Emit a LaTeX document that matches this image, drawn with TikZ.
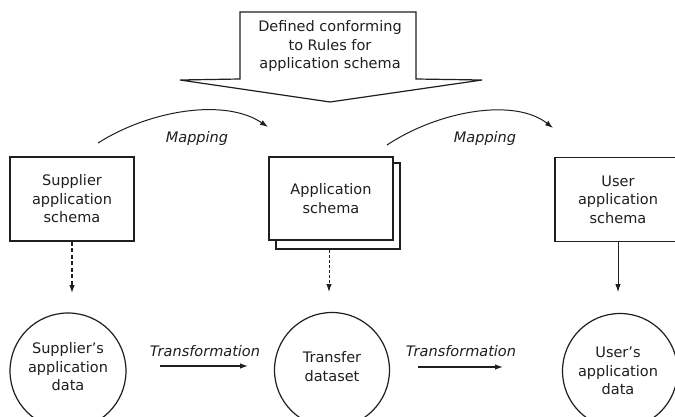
\documentclass[tikz,border=0pt]{standalone}
\usepackage{fontspec}
\setmainfont{DejaVu Sans}
\usetikzlibrary{arrows.meta}
\begin{document}
\begin{tikzpicture}[x=1pt,y=-1pt,
  line width=1.2pt, draw={black!88},
  lbl/.style={font=\fontsize{14.5}{18.5}\selectfont, align=center, inner sep=0pt, text=black!88},
  tag/.style={font=\fontsize{14.5}{18.5}\selectfont\itshape, inner sep=0pt, text=black!88},
  schemabox/.style={draw, fill=white, minimum width=124pt, minimum height=84pt, inner sep=0pt},
  datacircle/.style={draw, circle, minimum size=115pt, inner sep=0pt},
  flow/.style={-{Latex[length=8pt,width=5.5pt]}},
  dashflow/.style={flow, dash pattern=on 4pt off 2.5pt},
]
\useasboundingbox (0,0) rectangle (675,417);
\fill[white] (0,0) rectangle (675,417);
\clip (0,0) rectangle (675,417);

% block arrow carrying the conformance rules
\draw[line join=miter] (180,80) -- (240,79) -- (240,12) -- (416,12) -- (416,79)
  -- (482,80) -- (330,102) -- cycle;
\node[lbl] (rules) at (330,46.5) {Defined conforming\\to Rules for\\application schema};

% schemas
\node[schemabox] (sup) at (72,199) {};
\node[lbl] (suptxt) at (sup) {Supplier\\application\\schema};
\node[schemabox, minimum height=86pt] (appback) at (338,206) {};
\node[schemabox, minimum height=83pt] (app) at (331,198.5) {};
\node[lbl] (apptxt) at (app) {Application\\schema};
\node[schemabox, minimum width=126pt] (user) at (618,199.5) {};
\node[lbl] (usertxt) at (user) {User\\application\\schema};

% data sets
\node[datacircle, minimum size=116pt] (supdata) at (68,371) {};
\node[lbl] (supdatatxt) at (68,367) {Supplier’s\\application\\data};
\node[datacircle] (transfer) at (332,370) {};
\node[lbl] (transfertxt) at (332,366.5) {Transfer\\dataset};
\node[datacircle] (userdata) at (620,371) {};
\node[lbl] (userdatatxt) at (618,371) {User’s\\application\\data};

% mapping arcs
\coordinate (m1s) at (98,143);
\coordinate (m1e) at (268,127);
\coordinate (m2s) at (387,145);
\coordinate (m2e) at (553,128);
\draw[flow, line width=1pt] (m1s) .. controls (150,110) and (225,98) .. (m1e);
\draw[flow, line width=1pt] (m2s) .. controls (440,110) and (515,98) .. (m2e);
\node[tag] (map1) at (197,139) {Mapping};
\node[tag] (map2) at (485,139) {Mapping};

% schema to data
\coordinate (supend) at (72,293);
\coordinate (append) at (329,292);
\coordinate (userend) at (618,292);
\draw[dashflow] (sup.south) -- (supend);
\draw[dashflow, line width=1pt, dash pattern=on 3pt off 2pt] (329,250) -- (append);
\draw[flow, line width=0.8pt] (user.south -| userend) -- (userend);

% transformations
\coordinate (t1s) at (160,366);
\coordinate (t1e) at (248,366);
\coordinate (t2s) at (418,367);
\coordinate (t2e) at (503,367);
\draw[flow] (t1s) -- (t1e);
\draw[flow] (t2s) -- (t2e);
\node[tag] (tr1) at (205,351) {Transformation};
\node[tag] (tr2) at (461,351) {Transformation};
\end{tikzpicture}
\end{document}
